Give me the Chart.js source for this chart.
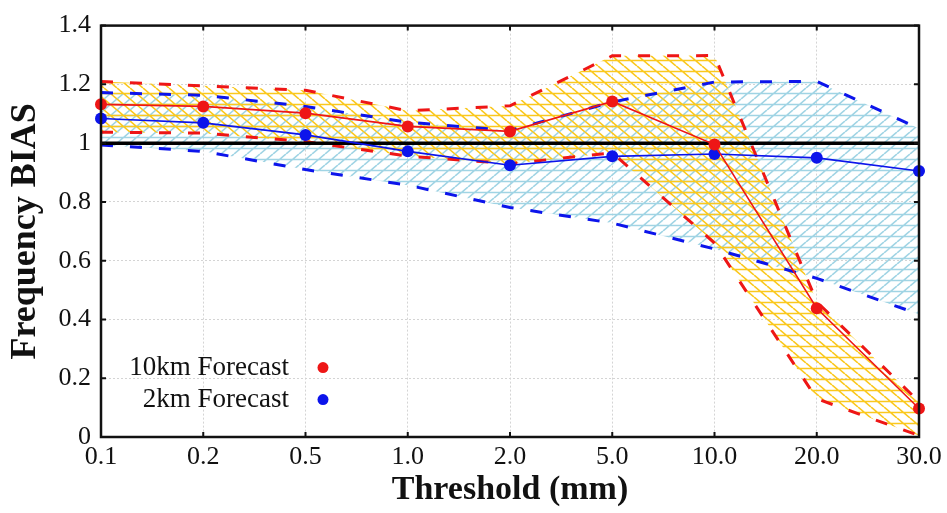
<!DOCTYPE html>
<html>
<head>
<meta charset="utf-8">
<script src="https://cdn.jsdelivr.net/npm/chart.js@4.4.1/dist/chart.umd.min.js"></script>
<style>
  html, body { margin: 0; padding: 0; background: #fff; }
</style>
</head>
<body>
<canvas id="biasChart" width="947" height="513"></canvas>
<script>
// Thresholds (mm) and frequency bias values
const thresholds = ['0.1', '0.2', '0.5', '1.0', '2.0', '5.0', '10.0', '20.0', '30.0'];
const yTickLabels = ['0', '0.2', '0.4', '0.6', '0.8', '1', '1.2', '1.4'];

const bias10km = [1.132, 1.125, 1.102, 1.057, 1.040, 1.142, 0.995, 0.438, 0.097];
const bias2km  = [1.084, 1.069, 1.028, 0.972, 0.925, 0.955, 0.963, 0.950, 0.905];

// Confidence envelopes
const upper10km = [1.210, 1.195, 1.180, 1.110, 1.127, 1.297, 1.298, 0.460, 0.120];
const lower10km = [1.037, 1.034, 1.005, 0.956, 0.930, 0.967, 0.660, 0.130, 0.005];
const upper2km  = [1.172, 1.163, 1.125, 1.071, 1.043, 1.140, 1.208, 1.210, 1.050];
const lower2km  = [0.994, 0.972, 0.910, 0.857, 0.781, 0.728, 0.640, 0.540, 0.418];

const perfectBias = 1;

const RED = 'rgb(238, 22, 22)';
const BLUE = 'rgb(12, 20, 235)';
const SERIF = '"Liberation Serif", "Times New Roman", serif';

// Hatch fill: horizontal lines plus one diagonal direction
function makeHatch(color, slash) {
  const w = 13, h = 11;
  const c = document.createElement('canvas');
  c.width = w;
  c.height = h;
  const g = c.getContext('2d');
  g.strokeStyle = color;
  g.lineWidth = 1.6;
  g.beginPath();
  g.moveTo(0, h / 2);
  g.lineTo(w, h / 2);
  for (let k = -1; k <= 1; k++) {
    if (slash) {
      g.moveTo(k * w, h);
      g.lineTo(k * w + w, 0);
    } else {
      g.moveTo(k * w, 0);
      g.lineTo(k * w + w, h);
    }
  }
  g.stroke();
  return g.createPattern(c, 'repeat');
}

const hatchYellow = makeHatch('rgb(250, 200, 30)', false);
const hatchBlue = makeHatch('rgb(160, 212, 228)', true);

// Frame, inward ticks and the bias = 1 reference line
const framePlugin = {
  id: 'frame',
  beforeDatasetDraw(chart, args) {
    if (args.index !== 1) return;
    const { ctx, chartArea, scales } = chart;
    const y = scales.y.getPixelForValue(perfectBias);
    ctx.save();
    ctx.strokeStyle = '#000';
    ctx.lineWidth = 3.5;
    ctx.beginPath();
    ctx.moveTo(chartArea.left, y);
    ctx.lineTo(chartArea.right, y);
    ctx.stroke();
    ctx.restore();
  },
  afterDatasetsDraw(chart) {
    const { ctx, chartArea: a, scales } = chart;
    ctx.save();
    ctx.strokeStyle = '#111';
    ctx.lineWidth = 2;
    const t = 5;
    ctx.beginPath();
    scales.x.ticks.forEach((tk, i) => {
      const x = scales.x.getPixelForTick(i);
      ctx.moveTo(x, a.bottom); ctx.lineTo(x, a.bottom - t);
      ctx.moveTo(x, a.top); ctx.lineTo(x, a.top + t);
    });
    scales.y.ticks.forEach((tk, i) => {
      const y = scales.y.getPixelForTick(i);
      ctx.moveTo(a.left, y); ctx.lineTo(a.left + t, y);
      ctx.moveTo(a.right, y); ctx.lineTo(a.right - t, y);
    });
    ctx.stroke();
    ctx.lineWidth = 2.5;
    ctx.strokeRect(a.left, a.top, a.right - a.left, a.bottom - a.top);
    ctx.restore();
  }
};

// Legend inside the plot: label text on the left, dot on the right
const insideLegend = {
  id: 'insideLegend',
  afterDraw(chart) {
    const { ctx, chartArea: a } = chart;
    const rows = [0, 1];
    ctx.save();
    ctx.font = '27px ' + SERIF;
    ctx.textAlign = 'right';
    ctx.textBaseline = 'middle';
    rows.forEach((di, r) => {
      const ds = chart.data.datasets[di];
      const y = a.top + 342 + r * 32;
      ctx.fillStyle = '#111';
      ctx.fillText(ds.label, a.left + 188, y);
      ctx.fillStyle = ds.pointBackgroundColor;
      ctx.beginPath();
      ctx.arc(a.left + 222, y, 5.5, 0, Math.PI * 2);
      ctx.fill();
    });
    ctx.restore();
  }
};

const envelope = (data, color, fill, pattern) => ({
  data: data,
  borderColor: color,
  borderWidth: 3,
  borderDash: [12, 17],
  pointRadius: 0,
  fill: fill,
  backgroundColor: pattern || 'transparent',
  order: 1
});

new Chart(document.getElementById('biasChart'), {
  type: 'line',
  data: {
    labels: thresholds,
    datasets: [
      {
        label: '10km Forecast',
        data: bias10km,
        borderColor: RED,
        borderWidth: 1.6,
        pointRadius: 6,
        pointBackgroundColor: RED,
        pointBorderWidth: 0,
        fill: false,
        order: 0
      },
      {
        label: '2km Forecast',
        data: bias2km,
        borderColor: BLUE,
        borderWidth: 1.6,
        pointRadius: 6,
        pointBackgroundColor: BLUE,
        pointBorderWidth: 0,
        fill: false,
        order: 0
      },
      envelope(upper10km, RED, '+1', hatchYellow),
      envelope(lower10km, RED, false),
      envelope(upper2km, BLUE, '+1', hatchBlue),
      envelope(lower2km, BLUE, false)
    ]
  },
  options: {
    responsive: false,
    animation: false,
    events: [],
    layout: { padding: { top: 23, right: 28, left: 0, bottom: 0 } },
    plugins: {
      legend: { display: false },
      tooltip: { enabled: false },
      filler: { drawTime: 'beforeDatasetsDraw' }
    },
    scales: {
      x: {
        type: 'category',
        offset: false,
        grid: { color: '#d4d4d4', lineWidth: 1, drawTicks: false },
        border: { display: false, dash: [2, 2] },
        ticks: {
          font: { family: SERIF, size: 26 },
          color: '#111',
          padding: 5,
          maxRotation: 0,
          autoSkip: false
        },
        title: {
          display: true,
          text: 'Threshold (mm)',
          font: { family: SERIF, size: 34, weight: 'bold' },
          color: '#111',
          padding: { top: 0, bottom: 2 }
        },
        afterFit(scale) { scale.height = 76; }
      },
      y: {
        min: 0,
        max: 1.4,
        grid: { color: '#d4d4d4', lineWidth: 1, drawTicks: false },
        border: { display: false, dash: [2, 2] },
        ticks: {
          stepSize: 0.2,
          font: { family: SERIF, size: 26 },
          color: '#111',
          padding: 10,
          callback: (v, i) => yTickLabels[i]
        },
        title: {
          display: true,
          text: 'Frequency BIAS',
          font: { family: SERIF, size: 36, weight: 'bold' },
          color: '#111',
          padding: { top: 4, bottom: 0 }
        },
        afterFit(scale) { scale.width = 101; }
      }
    }
  },
  plugins: [framePlugin, insideLegend]
});
</script>
</body>
</html>
